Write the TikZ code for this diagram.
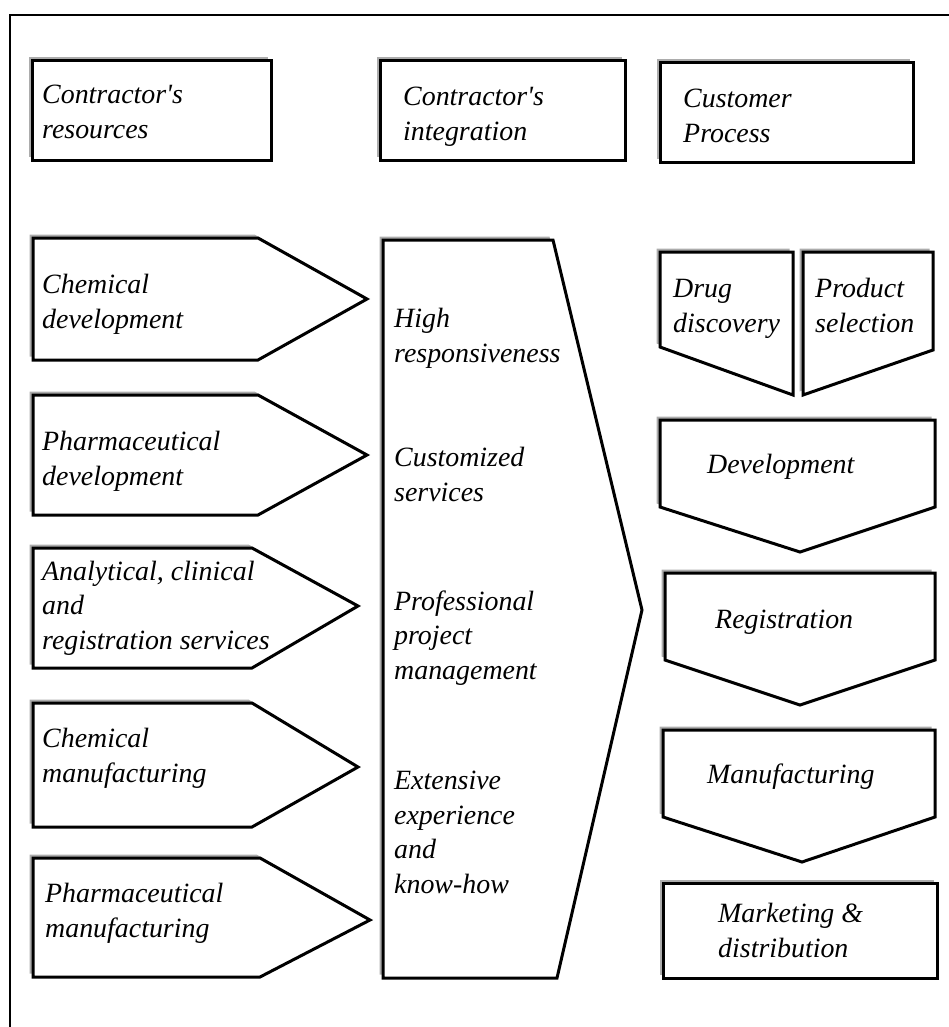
\documentclass[tikz,border=0pt]{standalone}
\usepackage{fontspec}
\setmainfont{Liberation Serif}
\usepackage{tikz}
\usetikzlibrary{shadows}
\tikzstyle{outline} = [draw=black, fill=white, line width=3bp, line join=miter, drop shadow={shadow xshift=-3.5bp, shadow yshift=3.5bp, fill=gray!65, opacity=1}]
\tikzstyle{lbl} = [anchor=base west, inner sep=0pt, align=left, font=\fontsize{28}{34.5}\selectfont\itshape]

\begin{document}
\begin{tikzpicture}[x=1bp, y=-1bp]
\useasboundingbox (0,0) rectangle (949,1027);
% Frame
\draw[line width=1.4bp] (10,1027) -- (10,15) -- (949,15);

% Column heads
\path[outline] (32,60) rectangle (271,160);
\path[outline] (380,60) rectangle (625,160);
\path[outline] (660,62) rectangle (913,162);
% (base anchor = last line)
\node[lbl] (resources) at (42,138) {Contractor\textquotesingle s\\resources};
\node[lbl] (integration) at (403,140) {Contractor\textquotesingle s\\integration};
\node[lbl] (process) at (683,142) {Customer\\Process};

% Contractor's resources
\path[outline] (33,238) -- (258,238) -- (367,299) -- (258,360) -- (33,360) -- cycle;
\path[outline] (33,395) -- (258,395) -- (367,455) -- (258,515) -- (33,515) -- cycle;
\path[outline] (33,548) -- (252,548) -- (358,606) -- (252,668) -- (33,668) -- cycle;
\path[outline] (33,703) -- (252,703) -- (358,767) -- (252,827) -- (33,827) -- cycle;
\path[outline] (33,858) -- (260,858) -- (370,920) -- (260,977) -- (33,977) -- cycle;
\node[lbl] (chemdev) at (42,328) {Chemical\\development};
\node[lbl] (pharmdev) at (42,485) {Pharmaceutical\\development};
\node[lbl] (services) at (42,649) {Analytical, clinical\\and\\registration services};
\node[lbl] (chemman) at (42,782) {Chemical\\manufacturing};
\node[lbl] (pharmman) at (45,937) {Pharmaceutical\\manufacturing};

% Contractor's integration
\path[outline] (383,240) -- (553,240) -- (642,610) -- (557,978) -- (383,978) -- cycle;
\node[lbl] (respons) at (394,362) {High\\responsiveness};
\node[lbl] (custom) at (394,501) {Customized\\services};
\node[lbl] (project) at (394,679) {Professional\\project\\management};
\node[lbl] (knowhow) at (394,893) {Extensive\\experience\\and\\know-how};

% Customer process
\path[outline] (660,252) -- (793,252) -- (793,395) -- (660,347) -- cycle;
\path[outline] (803,252) -- (933,252) -- (933,350) -- (803,395) -- cycle;
\path[outline] (660,420) -- (935,420) -- (935,507) -- (800,552) -- (660,507) -- cycle;
\path[outline] (665,573) -- (935,573) -- (935,660) -- (800,705) -- (665,660) -- cycle;
\path[outline] (663,730) -- (935,730) -- (935,817) -- (802,862) -- (663,817) -- cycle;
\path[outline] (663,883) rectangle (937,978);
\node[lbl] (discovery) at (673,332) {Drug\\discovery};
\node[lbl] (selection) at (815,332) {Product\\selection};
\node[lbl] (develop) at (707,473) {Development};
\node[lbl] (regist) at (715,628) {Registration};
\node[lbl] (manuf) at (707,783) {Manufacturing};
\node[lbl] (market) at (718,957) {Marketing \&\\distribution};
\end{tikzpicture}
\end{document}
